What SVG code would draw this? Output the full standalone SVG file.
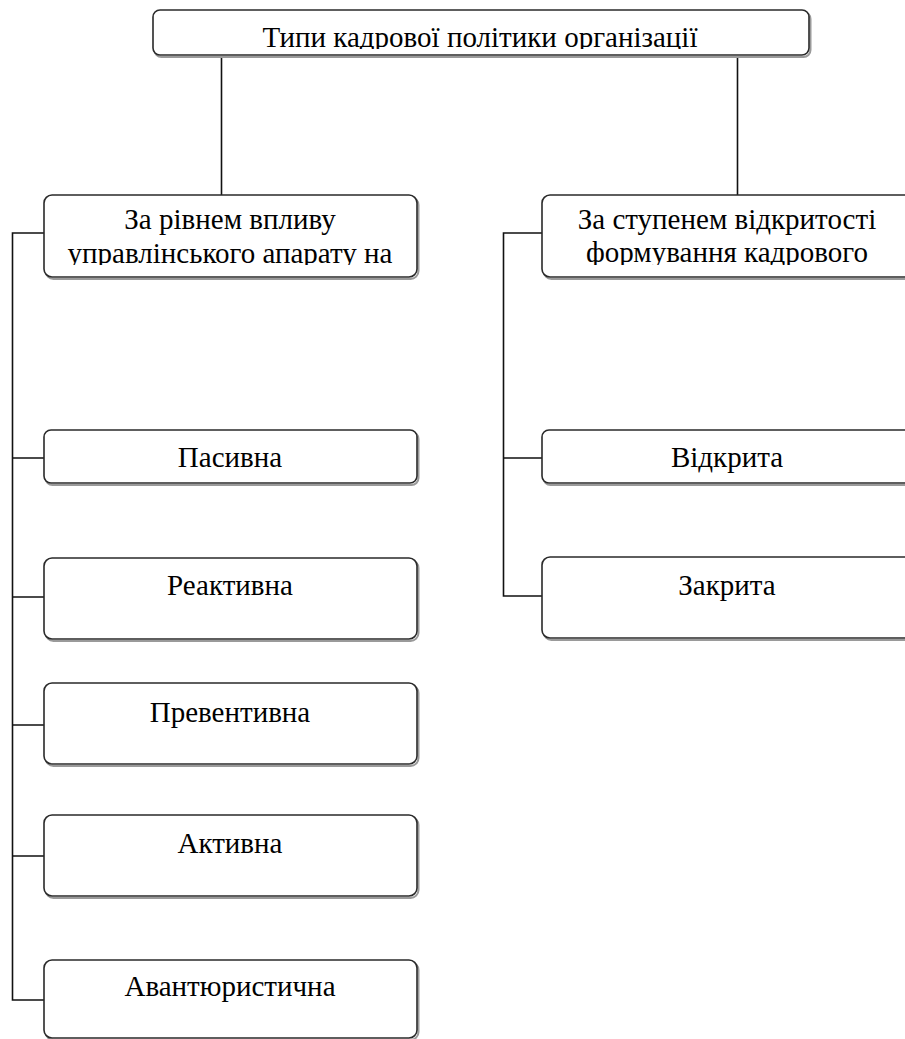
<svg xmlns="http://www.w3.org/2000/svg" width="905" height="1039" viewBox="0 0 905 1039">
<style>
.box{fill:#fff;stroke:#2a2a2a;stroke-width:1.6}
.sh{fill:none;stroke:#9a9a9a;stroke-width:2}
.t{font-family:'Liberation Serif','Times New Roman',serif;font-size:29px;fill:#000;text-anchor:middle}
.c{fill:none;stroke:#111;stroke-width:1.6}
</style>
<defs>
<clipPath id="clipTitle"><rect x="153" y="10" width="656" height="39"/></clipPath>
<clipPath id="clipL"><rect x="44" y="196" width="372" height="69"/></clipPath>
<clipPath id="clipR"><rect x="542" y="196" width="372" height="69"/></clipPath>
</defs>
<g id="connectors">
<path class="c" d="M221.5 56V196M737.5 56V196"/>
<path class="c" d="M44 233H12.5V1000H44M12.5 458H44M12.5 597H44M12.5 725H44M12.5 856H44"/>
<path class="c" d="M542 233H503.5V596H542M503.5 458H542"/>
</g>
<g id="title">
<rect class="sh" x="154.5" y="12" width="656" height="45" rx="7"/>
<rect class="box" x="153" y="10" width="656" height="45" rx="7"/>
<text class="t" x="480" y="47" clip-path="url(#clipTitle)">Типи кадрової політики організації</text>
</g>
<g id="cat-left">
<rect class="sh" x="45.5" y="197" width="373" height="82" rx="8"/>
<rect class="box" x="44" y="195" width="373" height="82" rx="8"/>
<text class="t" clip-path="url(#clipL)"><tspan x="230" y="229">За рівнем впливу</tspan><tspan x="230" y="263">управлінського апарату на</tspan></text>
</g>
<g id="cat-right">
<rect class="sh" x="543.5" y="197" width="373" height="82" rx="8"/>
<rect class="box" x="542" y="195" width="373" height="82" rx="8"/>
<text class="t" clip-path="url(#clipR)"><tspan x="727" y="229">За ступенем відкритості</tspan><tspan x="727" y="262">формування кадрового</tspan></text>
</g>
<g id="pasyvna">
<rect class="sh" x="45.5" y="432" width="373" height="53" rx="7"/>
<rect class="box" x="44" y="430" width="373" height="53" rx="7"/>
<text class="t" x="230" y="467">Пасивна</text>
</g>
<g id="reaktyvna">
<rect class="sh" x="45.5" y="560" width="373" height="81" rx="8"/>
<rect class="box" x="44" y="558" width="373" height="81" rx="8"/>
<text class="t" x="230" y="595">Реактивна</text>
</g>
<g id="preventyvna">
<rect class="sh" x="45.5" y="685" width="373" height="81" rx="8"/>
<rect class="box" x="44" y="683" width="373" height="81" rx="8"/>
<text class="t" x="230" y="722">Превентивна</text>
</g>
<g id="aktyvna">
<rect class="sh" x="45.5" y="817" width="373" height="81" rx="8"/>
<rect class="box" x="44" y="815" width="373" height="81" rx="8"/>
<text class="t" x="230" y="853">Активна</text>
</g>
<g id="avantiurystychna">
<rect class="sh" x="45.5" y="962" width="373" height="78" rx="8"/>
<rect class="box" x="44" y="960" width="373" height="78" rx="8"/>
<text class="t" x="230" y="996">Авантюристична</text>
</g>
<g id="vidkryta">
<rect class="sh" x="543.5" y="432" width="373" height="53" rx="7"/>
<rect class="box" x="542" y="430" width="373" height="53" rx="7"/>
<text class="t" x="727" y="467">Відкрита</text>
</g>
<g id="zakryta">
<rect class="sh" x="543.5" y="559" width="373" height="81" rx="8"/>
<rect class="box" x="542" y="557" width="373" height="81" rx="8"/>
<text class="t" x="727" y="595">Закрита</text>
</g>
</svg>
